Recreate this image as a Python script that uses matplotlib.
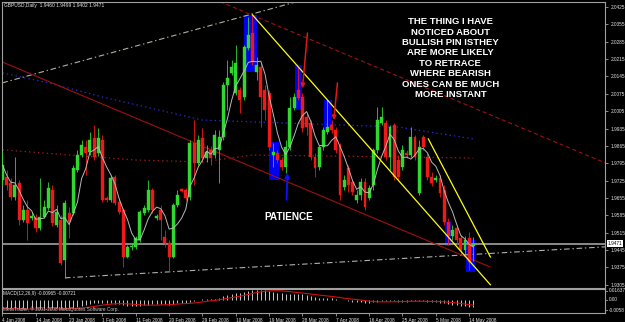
import numpy as np
import pandas as pd
import matplotlib
matplotlib.use('Agg')
import matplotlib.pyplot as plt
from matplotlib.patches import Rectangle

plt.rcParams['font.family'] = ['Liberation Sans', 'DejaVu Sans']
plt.rcParams['lines.scale_dashes'] = False

# ---------------- data (GBPUSD daily) ----------------
opens = [1.9728, 1.9740, 1.9716, 1.9659, 1.9716, 1.9566, 1.9607, 1.9574, 1.9578, 1.9534,
         1.9578, 1.9615, 1.9687, 1.9546, 1.9566, 1.9405, 1.9595, 1.9595, 1.9768, 1.9828,
         1.9861, 1.9840, 1.9897, 1.9836, 1.9889, 1.9655, 1.9647, 1.9740, 1.9639, 1.9607,
         1.9417, 1.9458, 1.9458, 1.9486, 1.9595, 1.9607, 1.9687, 1.9574, 1.9607, 1.9498,
         1.9474, 1.9417, 1.9627, 1.9691, 1.9687, 1.9659, 1.9877, 1.9796, 1.9897, 1.9816,
         1.9849, 1.9828, 1.9849, 1.9901, 2.0110, 2.0159, 2.0078, 2.0090, 2.0062, 2.0260,
         2.0320, 2.0163, 2.0183, 2.0090, 2.0078, 1.9828, 1.9836, 1.9808, 1.9780, 1.9861,
         2.0018, 2.0090, 2.0062, 1.9982, 1.9957, 1.9820, 1.9780, 1.9861, 1.9921, 1.9949,
         1.9929, 1.9869, 1.9699, 1.9776, 1.9720, 1.9647, 1.9667, 1.9720, 1.9655, 1.9708,
         1.9849, 1.9957, 1.9957, 1.9820, 1.9949, 1.9808, 1.9780, 1.9836, 1.9828, 1.9901,
         1.9675, 1.9901, 1.9820, 1.9740, 1.9728, 1.9736, 1.9687, 1.9558, 1.9502, 1.9534,
         1.9494, 1.9446, 1.9494, 1.9460]
highs = [1.9840, 1.9768, 1.9736, 1.9820, 1.9728, 1.9627, 1.9647, 1.9599, 1.9591, 1.9736,
         1.9647, 1.9720, 1.9708, 1.9627, 1.9587, 1.9647, 1.9619, 1.9788, 1.9849, 1.9889,
         1.9889, 1.9921, 1.9949, 1.9937, 1.9909, 1.9663, 1.9748, 1.9748, 1.9655, 1.9615,
         1.9466, 1.9474, 1.9502, 1.9607, 1.9627, 1.9728, 1.9695, 1.9591, 1.9627, 1.9526,
         1.9486, 1.9635, 1.9687, 1.9695, 1.9695, 1.9889, 1.9969, 1.9909, 1.9937, 1.9869,
         1.9865, 1.9929, 1.9929, 2.0123, 2.0211, 2.0211, 2.0272, 2.0102, 2.0272, 2.0384,
         2.0393, 2.0223, 2.0203, 2.0110, 2.0090, 1.9877, 1.9849, 1.9820, 1.9889, 2.0062,
         2.0078, 2.0183, 2.0078, 1.9998, 1.9969, 1.9836, 1.9869, 1.9941, 2.0050, 1.9969,
         1.9941, 1.9877, 1.9748, 1.9788, 1.9728, 1.9687, 1.9736, 1.9736, 1.9708, 1.9857,
         2.0022, 2.0022, 1.9969, 1.9949, 1.9957, 1.9828, 1.9869, 1.9849, 1.9941, 1.9909,
         1.9889, 1.9909, 1.9836, 1.9760, 1.9748, 1.9748, 1.9708, 1.9574, 1.9546, 1.9546,
         1.9506, 1.9502, 1.9518, 1.9499]
lows = [1.9708, 1.9687, 1.9647, 1.9647, 1.9546, 1.9558, 1.9486, 1.9566, 1.9518, 1.9526,
        1.9574, 1.9607, 1.9542, 1.9538, 1.9385, 1.9333, 1.9494, 1.9587, 1.9760, 1.9820,
        1.9748, 1.9828, 1.9808, 1.9824, 1.9639, 1.9639, 1.9639, 1.9627, 1.9591, 1.9377,
        1.9413, 1.9446, 1.9450, 1.9478, 1.9587, 1.9599, 1.9595, 1.9566, 1.9486, 1.9458,
        1.9357, 1.9413, 1.9619, 1.9679, 1.9647, 1.9647, 1.9708, 1.9788, 1.9800, 1.9800,
        1.9788, 1.9816, 1.9716, 1.9889, 2.0010, 2.0151, 2.0070, 1.9998, 2.0050, 2.0252,
        2.0191, 2.0131, 1.9941, 1.9969, 1.9849, 1.9780, 1.9796, 1.9768, 1.9756, 1.9849,
        2.0010, 2.0050, 1.9921, 1.9909, 1.9808, 1.9740, 1.9768, 1.9849, 1.9913, 1.9917,
        1.9836, 1.9647, 1.9687, 1.9679, 1.9667, 1.9635, 1.9647, 1.9607, 1.9647, 1.9687,
        1.9836, 1.9949, 1.9808, 1.9768, 1.9728, 1.9728, 1.9768, 1.9816, 1.9820, 1.9808,
        1.9667, 1.9849, 1.9728, 1.9704, 1.9720, 1.9659, 1.9546, 1.9466, 1.9486, 1.9466,
        1.9425, 1.9425, 1.9365, 1.9402]
closes = [1.9788, 1.9708, 1.9659, 1.9708, 1.9566, 1.9607, 1.9554, 1.9583, 1.9534, 1.9578,
          1.9619, 1.9695, 1.9554, 1.9599, 1.9393, 1.9635, 1.9558, 1.9776, 1.9828, 1.9869,
          1.9836, 1.9889, 1.9820, 1.9897, 1.9647, 1.9647, 1.9736, 1.9635, 1.9599, 1.9417,
          1.9458, 1.9462, 1.9494, 1.9599, 1.9615, 1.9687, 1.9607, 1.9583, 1.9566, 1.9474,
          1.9417, 1.9627, 1.9667, 1.9683, 1.9655, 1.9877, 1.9796, 1.9889, 1.9816, 1.9840,
          1.9816, 1.9909, 1.9901, 2.0110, 2.0139, 2.0183, 2.0199, 2.0050, 2.0264, 2.0312,
          2.0203, 2.0191, 2.0062, 2.0010, 1.9861, 1.9840, 1.9808, 1.9780, 1.9861, 2.0018,
          2.0062, 2.0058, 1.9937, 1.9941, 1.9820, 1.9776, 1.9861, 1.9929, 1.9941, 1.9929,
          1.9849, 1.9667, 1.9728, 1.9708, 1.9679, 1.9667, 1.9720, 1.9619, 1.9695, 1.9849,
          1.9969, 1.9982, 1.9820, 1.9941, 1.9740, 1.9740, 1.9849, 1.9828, 1.9901, 1.9820,
          1.9861, 1.9861, 1.9740, 1.9716, 1.9736, 1.9675, 1.9558, 1.9502, 1.9526, 1.9486,
          1.9446, 1.9486, 1.9397, 1.9471]

# MACD(12,26,9) main line (histogram)
macd_main = [-0.0110, -0.0115, -0.0120, -0.0120, -0.0125, -0.0125, -0.0125, -0.0125,
             -0.0125, -0.0120, -0.0115, -0.0110, -0.0110, -0.0110, -0.0120, -0.0115,
             -0.0110, -0.0100, -0.0090, -0.0075, -0.0065, -0.0055, -0.0045, -0.0035,
             -0.0040, -0.0045, -0.0045, -0.0050, -0.0055, -0.0070, -0.0075, -0.0080,
             -0.0080, -0.0075, -0.0070, -0.0060, -0.0055, -0.0050, -0.0050, -0.0055,
             -0.0060, -0.0050, -0.0040, -0.0035, -0.0035, -0.0020, -0.0010, 0.0005,
             0.0010, 0.0015, 0.0015, 0.0020, 0.0030, 0.0050, 0.0065, 0.0080,
             0.0090, 0.0095, 0.0110, 0.0125, 0.0135, 0.0140, 0.0140, 0.0135,
             0.0120, 0.0110, 0.0100, 0.0090, 0.0085, 0.0085, 0.0085, 0.0085,
             0.0075, 0.0065, 0.0050, 0.0035, 0.0030, 0.0030, 0.0030, 0.0030,
             0.0020, 0.0005, -0.0005, -0.0010, -0.0020, -0.0025, -0.0030, -0.0035,
             -0.0035, -0.0030, -0.0020, -0.0015, -0.0015, -0.0010, -0.0015, -0.0020,
             -0.0020, -0.0020, -0.0015, -0.0015, -0.0015, -0.0015, -0.0020, -0.0025,
             -0.0030, -0.0035, -0.0045, -0.0055, -0.0060, -0.0070, -0.0080, -0.0085,
             -0.0095, -0.00965]

date_labels = ['4 Jan 2008', '14 Jan 2008', '23 Jan 2008', '1 Feb 2008', '11 Feb 2008',
               '20 Feb 2008', '29 Feb 2008', '10 Mar 2008', '19 Mar 2008', '28 Mar 2008',
               '7 Apr 2008', '16 Apr 2008', '25 Apr 2008', '5 May 2008', '14 May 2008']
price_ticks = [2.0425, 2.0355, 2.0285, 2.0215, 2.0145, 2.0075, 2.0005, 1.9935, 1.9865,
               1.9795, 1.9725, 1.9655, 1.9585, 1.9515, 1.9445, 1.9375, 1.9305]
macd_labels = ['0.01637', '0.00', '-0.0058']
last_price = 1.9471

# long dotted averages (bar, price)
blue_ma_bar = [0, 11, 24, 48, 95, 113]
blue_ma_val = [2.0159, 2.0119, 2.0062, 1.9969, 1.9941, 1.9893]
red_ma_bar = [0, 32, 48, 60, 113]
red_ma_val = [1.9849, 1.9808, 1.9800, 1.9828, 1.9816]

# trend lines (bar, price)
grey_up_bar, grey_up_val = [0, 71], [2.0119, 2.0448]
grey_low_bar, grey_low_val = [15, 144.7], [1.9333, 1.9458]
red_low_bar, red_low_val = [0, 117], [2.0203, 1.9377]
red_up_bar, red_up_val = [45, 144.7], [2.0497, 1.9796]
yel1_bar, yel1_val = [60, 117.1], [2.0393, 1.9305]
yel2_bar, yel2_val = [102.2, 117.1], [1.9893, 1.9417]

# highlighted pin bars (blue rectangles)
box_start = [57.9, 63.9, 70.1, 77.1, 106.3, 111.3]
box_end = [61.2, 66.3, 72.0, 79.2, 107.7, 113.3]
box_top = [2.0393, 1.9881, 2.0191, 2.0050, 1.9558, 1.9486]
box_bottom = [2.0163, 1.9728, 2.0010, 1.9929, 1.9462, 1.9357]

# arrows: (tail bar, tail price, head bar, head price)
red_arrows = [(73.2, 2.0320, 72.0, 2.0098), (80.4, 2.0119, 79.5, 1.9969)]
blue_arrows = [(68.2, 1.9647, 68.4, 1.9756)]

note_text = ("THE THING I HAVE\nNOTICED ABOUT\nBULLISH PIN ISTHEY\nARE MORE LIKELY\n"
             "TO RETRACE\nWHERE BEARISH\nONES CAN BE MUCH\nMORE INSTANT")

# ---------------- figure ----------------
W, H = 625, 322
fig = plt.figure(figsize=(W / 100, H / 100), dpi=100, facecolor='black')
ax = fig.add_axes([2 / W, 1 - 288 / H, 603 / W, 286 / H], facecolor='black')
axm = fig.add_axes([2 / W, 1 - 313 / H, 603 / W, 24 / H], facecolor='black')

frame = '#a0a0a0'
txtc = '#e6e6e6'
for a in (ax, axm):
    for s in a.spines.values():
        s.set_color(frame)
        s.set_linewidth(0.8)
    a.set_xlim(-0.1, 144.6)

ax.set_ylim(1.9292, 2.0445)
idx = np.arange(len(closes))
o = np.array(opens); c = np.array(closes); hi = np.array(highs); lo = np.array(lows)
up = c >= o
green, red = '#2fd82f', '#f01818'
cols = np.where(up, green, red)

# blue highlight rectangles
for s, e, t, b in zip(box_start, box_end, box_top, box_bottom):
    ax.add_patch(Rectangle((s, b), e - s, t - b, facecolor='#0000f0', edgecolor='none', zorder=1))

# current price line
ax.axhline(last_price, color='#8a8a8a', lw=1.4, zorder=1.5)

# dotted long averages
ax.plot(blue_ma_bar, blue_ma_val, color='#2a2ad0', lw=0.9, ls=(0, (1, 2.2)), zorder=2)
ax.plot(red_ma_bar, red_ma_val, color='#9a1c1c', lw=0.9, ls=(0, (1, 2.2)), zorder=2)

# trend lines
ax.plot(grey_up_bar, grey_up_val, color='#b0b0a0', lw=0.8, ls=(0, (4, 2, 1, 2)), zorder=2)
ax.plot(grey_low_bar, grey_low_val, color='#b0b0b0', lw=0.8, ls=(0, (4, 2, 1, 2)), zorder=2)
ax.plot(red_low_bar, red_low_val, color='#a01010', lw=0.8, zorder=2)
ax.plot(red_up_bar, red_up_val, color='#a01010', lw=0.8, ls=(0, (3, 2)), zorder=2)

# candles
ax.vlines(idx, lo, hi, colors=cols, lw=0.6, zorder=3)
ax.bar(idx, np.abs(c - o), bottom=np.minimum(o, c), width=0.7, color=cols,
       edgecolor=cols, linewidth=0.3, zorder=4)

# moving average of closes
ma = pd.Series(closes).rolling(5, min_periods=1).mean()
ax.plot(idx, ma, color='#b8b8b8', lw=0.7, zorder=5)

# yellow lines
ax.plot(yel1_bar, yel1_val, color='#ffff00', lw=0.9, zorder=6)
ax.plot(yel2_bar, yel2_val, color='#ffff00', lw=0.9, zorder=6)

# arrows
for tx, ty, hx, hy in red_arrows:
    ax.annotate('', xy=(hx, hy), xytext=(tx, ty), zorder=7,
                arrowprops=dict(arrowstyle='-|>', color='#e01818', lw=1.1,
                                mutation_scale=6, shrinkA=0, shrinkB=0))
for tx, ty, hx, hy in blue_arrows:
    ax.annotate('', xy=(hx, hy), xytext=(tx, ty), zorder=7,
                arrowprops=dict(arrowstyle='-|>', color='#1010ff', lw=1.3,
                                mutation_scale=7, shrinkA=0, shrinkB=0))

# texts
ax.text(68.7, 1.9578, 'PATIENCE', color='white', fontsize=7.2, fontweight='bold',
        ha='center', va='center', zorder=8)
ax.text(107.5, 2.0219, note_text, color='white', fontsize=6.8, fontweight='bold',
        ha='center', va='center', linespacing=1.2, zorder=8)

# price axis
ax.yaxis.tick_right()
ax.set_yticks(price_ticks)
ax.set_yticklabels(['%.4f' % p for p in price_ticks])
ax.tick_params(axis='y', colors=frame, labelcolor=txtc, length=2.5, width=0.6,
               labelsize=3.4, pad=1.5, direction='out')
ax.tick_params(axis='x', bottom=False, labelbottom=False)
ax.text(1.004, last_price, '%.4f' % last_price, transform=ax.get_yaxis_transform(),
        fontsize=3.4, color='black', va='center', ha='left',
        bbox=dict(facecolor='white', edgecolor='none', pad=0.6), zorder=9)

# MACD panel
axm.set_ylim(-0.0173, 0.0147)
axm.vlines(idx, 0, macd_main, colors='#c8c8c8', lw=0.7)
signal = pd.Series(macd_main).rolling(9, min_periods=1).mean()
axm.plot(idx, signal, color='#d01010', lw=0.8)
axm.set_yticks([])
for frac, lbl in zip([0.917, 0.542, 0.125], macd_labels):
    axm.text(1.006, frac, lbl, transform=axm.transAxes, fontsize=3.4, color=txtc,
             va='center', ha='left')
    axm.plot([1.0, 1.004], [frac, frac], transform=axm.transAxes, color=frame,
             lw=0.6, clip_on=False)
axm.set_xticks(np.arange(0, len(closes), 8))
axm.set_xticklabels(date_labels, ha='left')
axm.tick_params(axis='x', colors=frame, labelcolor=txtc, length=2.5, width=0.6,
                labelsize=3.4, pad=1.0, direction='out')

fig.text(4 / W, 1 - 5.5 / H, 'GBPUSD,Daily  1.9460 1.9499 1.9402 1.9471',
         color=txtc, fontsize=3.5, va='center', ha='left')
fig.text(3 / W, 1 - 293.5 / H, 'MACD(12,26,9) -0.00965 -0.00721',
         color=txtc, fontsize=3.4, va='center', ha='left')
fig.text(3 / W, 1 - 309.5 / H, 'MetaTrader, \u00a9 2001-2008 MetaQuotes Software Corp.',
         color='#c8c8c8', fontsize=3.4, va='center', ha='left')

fig.savefig('out.png', dpi=100, facecolor='black')
